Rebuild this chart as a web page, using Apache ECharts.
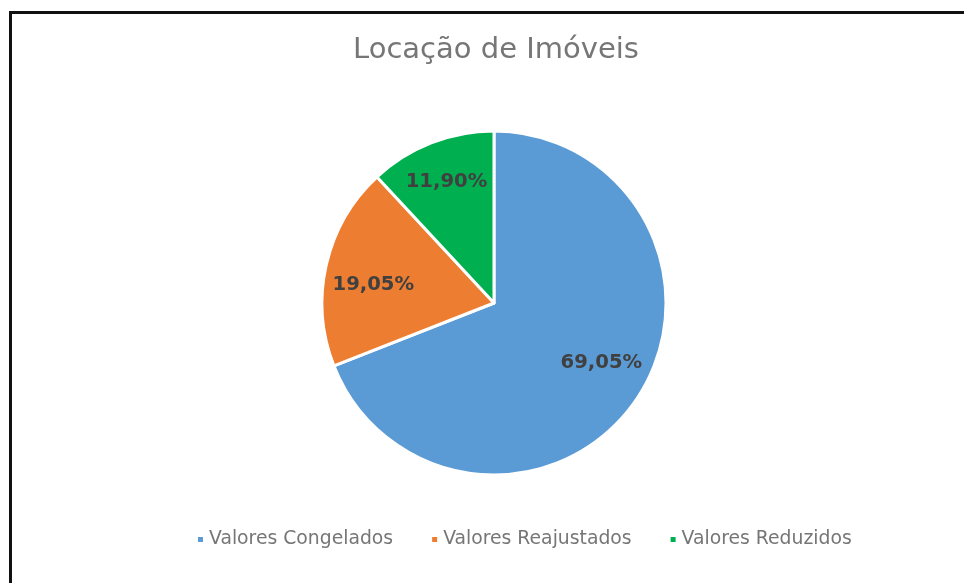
<!DOCTYPE html>
<html>
<head>
<meta charset="utf-8">
<script src="https://cdn.jsdelivr.net/npm/echarts@6/dist/echarts.min.js"></script>
<style>
  html, body { margin: 0; padding: 0; background: #fff; overflow: hidden; }
  #chart { width: 964px; height: 583px; }
  #frame {
    position: absolute; left: 9px; top: 11px;
    width: 1000px; height: 600px;
    border: 3px solid #111; box-sizing: border-box;
    pointer-events: none;
  }
</style>
</head>
<body>
<div id="chart"></div>
<div id="frame"></div>
<script>
// dados do gráfico
const categorias = ["Valores Congelados", "Valores Reajustados", "Valores Reduzidos"];
const valores = [29, 8, 5];
const cores = ["#5b9bd5", "#ed7d31", "#00b050"];

const centro = [494, 303];
const raio = 172;
const fonte = "'DejaVu Sans', Verdana, sans-serif";
// ajuste fino dos rótulos (estilo "melhor ajuste" do Excel)
const ajusteRotulo = [[0, -13], [6, 11], [0, 0]];

let myChart = echarts.init(document.getElementById("chart"));
myChart.setOption({
  color: cores,
  title: {
    text: "Locação de Imóveis",
    left: 491,
    textAlign: "center",
    top: 31,
    textStyle: {
      fontFamily: fonte,
      fontSize: 29,
      fontWeight: "normal",
      color: "#767676",
    },
  },
  legend: {
    top: 525,
    left: 191,
    icon: "rect",
    itemWidth: 7,
    itemHeight: 7,
    itemGap: 37,
    textStyle: {
      fontFamily: fonte,
      fontSize: 18.8,
      color: "#767676",
    },
    data: categorias,
  },
  series: [
    {
      type: "pie",
      center: centro,
      radius: [0, raio],
      startAngle: 90,
      clockwise: true,
      animation: false,
      itemStyle: {
        borderColor: "#fff",
        borderWidth: 3,
      },
      label: {
        position: "inside",
        fontFamily: fonte,
        fontSize: 19.6,
        fontWeight: "bold",
        color: "#404040",
        formatter: (p) => p.percent.toFixed(2).replace(".", ",") + "%",
      },
      labelLayout: (params) => {
        // empurra o rótulo para fora (≈0,73 do raio)
        const r = params.labelRect;
        const lx = r.x + r.width / 2;
        const ly = r.y + r.height / 2;
        const a = ajusteRotulo[params.dataIndex];
        return {
          dx: (lx - centro[0]) * 0.46 + a[0],
          dy: (ly - centro[1]) * 0.46 + a[1],
        };
      },
      emphasis: { disabled: true },
      data: categorias.map((c, i) => ({ name: c, value: valores[i] })),
    },
  ],
});

window.addEventListener("resize", () => {
  myChart.resize();
});
</script>
</body>
</html>
